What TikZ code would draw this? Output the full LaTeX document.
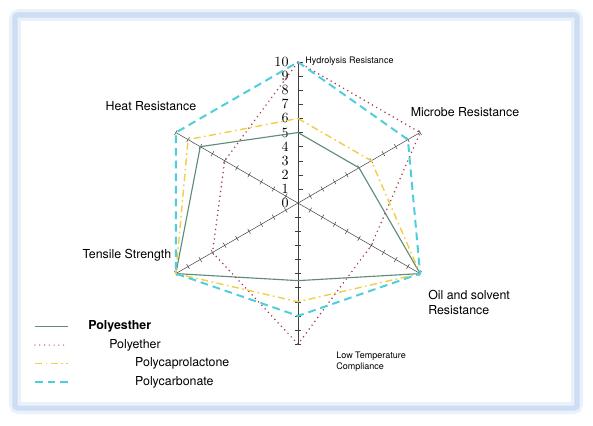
\documentclass[tikz,border=0pt]{standalone}
\usepackage{fontspec}
\newfontfamily\labelfont{TeX Gyre Heros}
\usepackage{tikz}
\usetikzlibrary{positioning}
\definecolor{esterc}{HTML}{5E8C7C}
\definecolor{etherc}{HTML}{A93848}
\definecolor{caproc}{HTML}{F0CF45}
\definecolor{carbc}{HTML}{4CCFDB}
\definecolor{framec}{HTML}{CCDDF4}
\definecolor{glowc}{HTML}{EAF1FB}

\begin{document}
\begin{tikzpicture}[x=0.3525cm, y=0.3525cm,
	axis/.style={draw=black!75, line width=0.35pt},
	num/.style={font=\fontsize{10}{10}\selectfont, inner sep=0pt, anchor=east},
	lbl/.style={font=\labelfont\fontsize{8.8}{10.6}\selectfont, inner sep=0pt},
	small/.style={font=\labelfont\fontsize{6.4}{7.8}\selectfont, inner sep=0pt},
	ester/.style={draw=esterc, line width=0.8pt},
	ether/.style={draw=etherc, line width=1.2pt, line cap=round, dash pattern=on 0pt off 3.4pt},
	capro/.style={draw=caproc, line width=1pt, dash pattern=on 5pt off 2.5pt on 1.2pt off 2.5pt},
	carb/.style={draw=carbc, line width=1.4pt, dash pattern=on 5.5pt off 3.5pt}]
		\useasboundingbox (-21.13,-15.74) rectangle (20.92,14.40);
		\fill[white] (-21.13,-15.74) rectangle (20.92,14.40);
		\draw[glowc, line width=0.3cm, rounded corners=3pt] (-20.07,-14.54) rectangle (19.79,13.33);
		\draw[framec, line width=0.13cm, rounded corners=2pt] (-20.07,-14.54) rectangle (19.79,13.33);

		\coordinate (hyd) at (90:10); \coordinate (mic) at (30:10); \coordinate (oil) at (-30:10); \coordinate (low) at (-90:10); \coordinate (ten) at (210:10); \coordinate (heat) at (150:10);
		\draw[axis] (hyd) -- (low); \draw[axis] (heat) -- (oil); \draw[axis] (ten) -- (mic);
		\foreach \k in {1,...,10} {\draw[axis] (0,\k) -- (0.35,\k); \draw[axis] (-0.18,-\k) -- (0.18,-\k); \foreach \a in {30,150,210,-30} \draw[axis, rotate=\a] (\k,-0.2) -- (\k,0.2);}
		\foreach \k in {0,...,10} \node[num] (n\k) at (-0.65,\k) {\k};

		\draw[ester] (90:5) -- (30:5) -- (-30:10) -- (-90:5.5) -- (210:10) -- (150:8) -- cycle;
		\draw[ether] (90:10) -- (30:10) -- (-30:6) -- (-90:10) -- (210:7) -- (150:6) -- cycle;
		\draw[capro] (90:6) -- (30:6) -- (-30:10) -- (-90:7) -- (210:10) -- (150:9) -- cycle;
		\draw[carb] (90:10) -- (30:9) -- (-30:10) -- (-90:8) -- (210:10) -- (150:10) -- cycle;

		\node[small, anchor=west] (lhyd) at (0.5,10.07) {Hydrolysis Resistance};
		\node[lbl] (lmic) at (11.84,6.45) {Microbe Resistance};
		\node[lbl] (lheat) at (-10.43,6.88) {Heat Resistance};
		\node[lbl] (lten) at (-12.13,-3.69) {Tensile Strength};
		\node[lbl, anchor=west, align=left] (loil) at (9.22,-7.02) {Oil and solvent\\Resistance};
		\node[small, anchor=west, align=left] (llow) at (2.70,-11.28) {Low Temperature\\Compliance};

		\draw[ester, line width=0.6pt] (-18.65,-8.72) -- (-16.31,-8.72); \node[lbl, anchor=west, font=\labelfont\bfseries\fontsize{8.8}{10.6}\selectfont] (kester) at (-14.89,-8.72) {Polyesther};
		\draw[ether, line width=0.9pt] (-18.65,-10.07) -- (-16.31,-10.07); \node[lbl, anchor=west] (kether) at (-13.40,-10.07) {Polyether};
		\draw[capro, line width=0.7pt] (-18.65,-11.35) -- (-16.31,-11.35); \node[lbl, anchor=west] (kcapro) at (-11.56,-11.35) {Polycaprolactone};
		\draw[carb, line width=1pt] (-18.65,-12.70) -- (-16.31,-12.70); \node[lbl, anchor=west] (kcarb) at (-11.56,-12.70) {Polycarbonate};
	\end{tikzpicture}
\end{document}
